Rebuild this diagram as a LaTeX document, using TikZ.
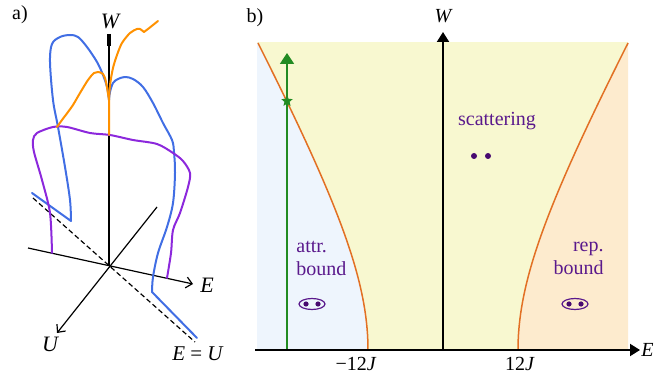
\documentclass[tikz,border=0pt]{standalone}
\usepackage{fontspec}
\setmainfont{Liberation Serif}
\usetikzlibrary{arrows.meta,shapes.geometric}
\definecolor{bgblue}{RGB}{238,245,253}
\definecolor{bgyellow}{RGB}{248,248,208}
\definecolor{bgorange}{RGB}{253,235,206}
\definecolor{bcurve}{RGB}{226,112,36}
\definecolor{grn}{RGB}{34,139,34}
\definecolor{purtext}{RGB}{90,25,140}
\definecolor{purdot}{RGB}{72,10,112}
\definecolor{cblue}{RGB}{65,110,228}
\definecolor{corange}{RGB}{255,145,0}
\definecolor{cpurple}{RGB}{140,40,220}
\begin{document}
\begin{tikzpicture}[x=0.5pt,y=-0.5pt,
  lbl/.style={font=\fontsize{10}{12}\selectfont, inner sep=1pt},
  lbla/.style={font=\fontsize{11}{13}\selectfont\itshape, inner sep=1pt},
  ptext/.style={font=\fontsize{10}{11.5}\selectfont, text=purtext, inner sep=0pt},
  axb/.style={line width=1pt, -{Triangle[length=5pt,width=6pt]}},
  axa/.style={line width=0.6pt, -{Straight Barb[length=3pt,width=5.5pt]}},
  bound/.style={bcurve, line width=0.75pt},
  acurve/.style={line width=1pt, line join=round, line cap=round},
  sdot/.style={circle, fill=purdot, inner sep=0pt, minimum size=3pt},
  edot/.style={circle, fill=purdot, inner sep=0pt, minimum size=2.6pt},
  eyering/.style={ellipse, draw=purtext, line width=0.6pt, inner sep=0pt, minimum width=13pt, minimum height=5.5pt}
]
\useasboundingbox (0,0) rectangle (668,373);

% ---------------- panel b ----------------
\fill[bgyellow] (257,42) rectangle (628,350);
\fill[bgblue] (257,350) -- plot[domain=0:307,samples=60] ({443-10*sqrt(56.25+(0.0551*\x)^2)},{350-\x}) -- (257,42) -- cycle;
\fill[bgorange] (628,350) -- plot[domain=0:307,samples=60] ({443+10*sqrt(56.25+(0.0551*\x)^2)},{350-\x}) -- (628,42) -- cycle;
\draw[bound] plot[domain=0:307,samples=60] ({443-10*sqrt(56.25+(0.0551*\x)^2)},{350-\x});
\draw[bound] plot[domain=0:307,samples=60] ({443+10*sqrt(56.25+(0.0551*\x)^2)},{350-\x});

\coordinate (gb) at (287,350);
\coordinate (gt) at (287,53);
\draw[grn, line width=0.9pt, -{Triangle[length=5.5pt,width=7pt]}] (gb) -- (gt);
\node[star, star points=5, star point ratio=2.2, fill=grn, inner sep=0pt, minimum size=6pt] (st) at (287,101) {};

\coordinate (el) at (255,350);
\coordinate (er) at (640,350);
\coordinate (wb) at (443,350);
\coordinate (wt) at (443,32);
\draw[axb] (el) -- (er);
\draw[axb] (wb) -- (wt);

\node[lbl] (blab) at (255,18) {b)};
\node[lbl, font=\fontsize{10}{12}\selectfont\itshape] (wlab) at (443,16) {W};
\node[lbl, font=\fontsize{10}{12}\selectfont\itshape, anchor=west] (elab) at (639,350) {E};
\node[lbl] (m12) at (356,364) {−12\textit{J}};
\node[lbl] (p12) at (520,364) {12\textit{J}};

\node[ptext, align=left, anchor=west] (attr) at (296,258) {attr.\\bound};
\node[ptext, align=right, anchor=east] (rep) at (604,258) {rep.\\bound};
\node[ptext] (scat) at (497,121) {scattering};

\node[sdot] (s1) at (474,156) {};
\node[sdot] (s2) at (488,156) {};

\node[eyering] (eyeL) at (312,304) {};
\node[edot] (eL1) at (306,304) {};
\node[edot] (eL2) at (318,304) {};
\node[eyering] (eyeR) at (575,304) {};
\node[edot] (eR1) at (569,304) {};
\node[edot] (eR2) at (581,304) {};

% ---------------- panel a ----------------
\node[lbl] (alab) at (20,15) {a)};
\coordinate (O) at (109,266);
\coordinate (Wt) at (109,34);
\coordinate (Ea) at (28,248);
\coordinate (Eb) at (193,284);
\coordinate (Ua) at (157,207);
\coordinate (Ub) at (57,333);
\coordinate (Da) at (33,198);
\coordinate (Db) at (195,342);
\draw[line width=0.6pt] (O) -- (Wt);
\draw[line width=1.6pt] (109,34) -- (109,46);
\draw[axa] (Ea) -- (Eb);
\draw[axa] (Ua) -- (Ub);
\draw[line width=0.6pt, dashed, dash pattern=on 2.5pt off 1.5pt] (Da) -- (Db);

\node[lbla] (Wa) at (110,21) {W};
\node[lbla] (Ealab) at (207,285) {E};
\node[lbla] (Ualab) at (50,344) {U};
\node[lbla, font=\fontsize{10.5}{12}\selectfont] (EU) at (198,354) {\textit{E} = \textit{U}};

% blue curve
\draw[acurve, cblue] (32,193) -- (71,221)
  plot[smooth, tension=0.55] coordinates {(71,221) (70,200) (65,167) (58,127) (53,100) (50,62) (52,44) (60,37) (70,35) (78,37) (87,47) (97,62) (103,75) (107,87) (109,100)}
  plot[smooth, tension=0.55] coordinates {(109,100) (110,92) (113,83) (118,79) (125,77) (133,79) (143,87) (153,103) (163,123) (172,140) (174,152) (175,173) (173,203) (167,227) (158,253) (153,277) (152,292)}
  -- (197,338);

% purple curve
\draw[acurve, cpurple] plot[smooth, tension=0.5] coordinates {(52,253) (50,213) (42,180) (34,152) (33,140) (37,133) (53,127) (67,127) (90,133) (110,135) (133,140) (157,144) (173,153) (183,161) (190,173) (188,187) (180,213) (173,230) (171,253) (167,278)};

% orange curve
\draw[acurve, corange] (109,135) -- (109,100)
  plot[smooth, tension=0.5] coordinates {(109,100) (110,85) (113,68) (117,55) (122,43) (130,33) (137,29) (140,29) (144,32)}
  -- (148,29) -- (158,21);
\draw[acurve, corange] plot[smooth, tension=0.5] coordinates {(109,100) (106,82) (103,74) (98,72) (94,73) (88,80) (80,93) (73,105) (68,112) (62,120) (57,127)};
\end{tikzpicture}
\end{document}
